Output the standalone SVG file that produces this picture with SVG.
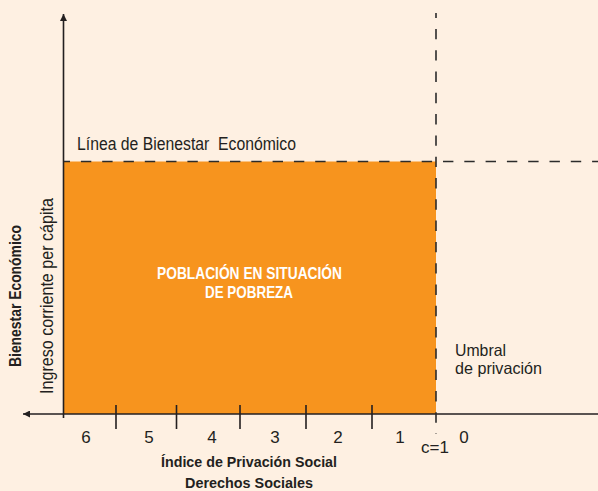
<svg xmlns="http://www.w3.org/2000/svg" width="598" height="491" viewBox="0 0 598 491">
  <style>
    .t { font-family: "Liberation Sans Narrow", "Liberation Sans", Arial, sans-serif; fill: #231F20; }
    .r { font-size: 17.5px; }
    .s { font-size: 16.5px; }
    .b { font-weight: bold; font-size: 15.5px; }
    .w { fill: #FFFFFF; font-weight: bold; font-size: 16.5px; }
    .d { font-size: 17px; text-anchor: middle; }
    .axis { stroke: #231F20; stroke-width: 1.6; fill: none; }
    .dash { stroke: #2B2B2B; stroke-width: 1.6; fill: none; stroke-dasharray: 10.4 10.9; }
  </style>
  <defs>
    <marker id="arrow" viewBox="0 0 10 10" refX="10" refY="5" markerWidth="7" markerHeight="7" markerUnits="userSpaceOnUse" orient="auto">
      <path d="M0,0 L10,5 L0,10 Z" fill="#231F20"/>
    </marker>
  </defs>
  <rect x="0" y="0" width="598" height="491" fill="#FEF0E2"/>

  <g id="poverty-region">
    <rect x="64" y="161.5" width="372" height="252.5" fill="#F7941E"/>
    <text class="t w" x="157" y="279" textLength="185" lengthAdjust="spacingAndGlyphs">POBLACIÓN EN SITUACIÓN</text>
    <text class="t w" x="205" y="298" textLength="88" lengthAdjust="spacingAndGlyphs">DE POBREZA</text>
  </g>

  <g id="connectors">
    <line class="axis" x1="63.5" y1="418" x2="63.5" y2="14" marker-end="url(#arrow)"/>
    <line class="axis" x1="598" y1="414" x2="23" y2="414" marker-end="url(#arrow)"/>
    <line class="dash" x1="64" y1="161.5" x2="598" y2="161.5" stroke-dashoffset="4.4"/>
    <line class="dash" x1="436" y1="13" x2="436" y2="434" stroke-dashoffset="5.4"/>
  </g>

  <g id="ticks">
    <line class="axis" x1="116" y1="405" x2="116" y2="429"/>
    <line class="axis" x1="176.5" y1="405" x2="176.5" y2="429"/>
    <line class="axis" x1="240" y1="405" x2="240" y2="429"/>
    <line class="axis" x1="306" y1="405" x2="306" y2="429"/>
    <line class="axis" x1="372" y1="405" x2="372" y2="429"/>
  </g>

  <g id="line-label">
    <text class="t r" x="77" y="150" xml:space="preserve" textLength="219" lengthAdjust="spacingAndGlyphs">Línea de Bienestar  Económico</text>
  </g>

  <g id="threshold-label">
    <text class="t s" x="455" y="355.5" textLength="51" lengthAdjust="spacingAndGlyphs">Umbral</text>
    <text class="t s" x="455" y="374" textLength="87" lengthAdjust="spacingAndGlyphs">de privación</text>
  </g>

  <g id="y-axis-labels">
    <text class="t b" style="font-size:16px" transform="translate(21,296) rotate(-90)" text-anchor="middle" textLength="142" lengthAdjust="spacingAndGlyphs">Bienestar Económico</text>
    <text class="t r" transform="translate(52.5,296) rotate(-90)" text-anchor="middle" textLength="196" lengthAdjust="spacingAndGlyphs">Ingreso corriente per cápita</text>
  </g>

  <g id="x-axis-values">
    <text class="t d" x="86" y="443">6</text>
    <text class="t d" x="149" y="443">5</text>
    <text class="t d" x="212" y="443">4</text>
    <text class="t d" x="275" y="443">3</text>
    <text class="t d" x="338" y="443">2</text>
    <text class="t d" x="400" y="443">1</text>
    <text class="t d" x="435" y="453">c=1</text>
    <text class="t d" x="464" y="443">0</text>
  </g>

  <g id="x-axis-labels">
    <text class="t b" x="161" y="467" textLength="176" lengthAdjust="spacingAndGlyphs">Índice de Privación Social</text>
    <text class="t b" x="185" y="488" textLength="128" lengthAdjust="spacingAndGlyphs">Derechos Sociales</text>
  </g>
</svg>
